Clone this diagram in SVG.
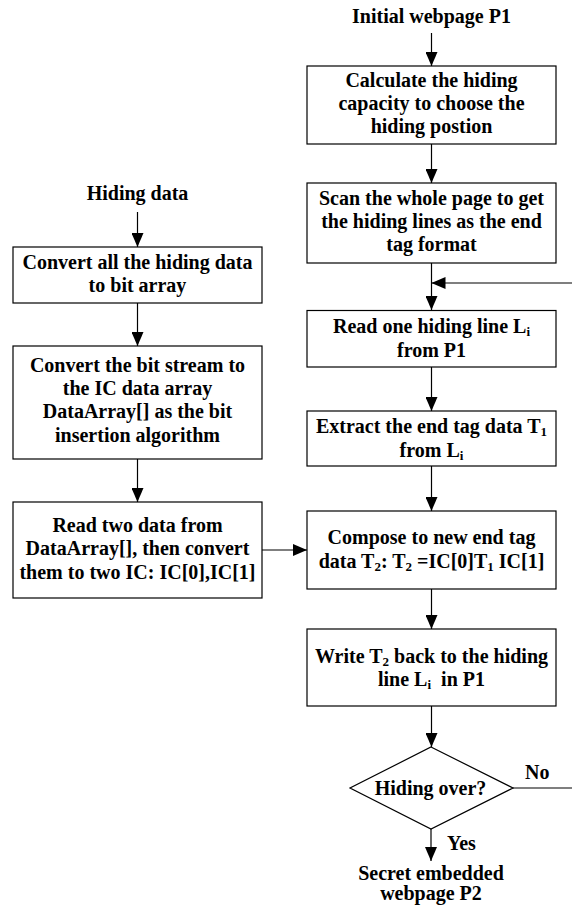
<svg xmlns="http://www.w3.org/2000/svg" width="572" height="917" viewBox="0 0 572 917">
<style>
text{font-family:"Liberation Serif","Times New Roman",serif;font-weight:bold;font-size:20px;fill:#000;text-anchor:middle}
.l{text-anchor:start}
.box{fill:#fff;stroke:#000;stroke-width:1.2}
.c{stroke:#000;stroke-width:1.2;fill:none}
.s{font-size:13px}
</style>
<defs>
<marker id="ah" markerUnits="userSpaceOnUse" markerWidth="14" markerHeight="12" viewBox="0 0 14 12" refX="14" refY="6" orient="auto">
<path d="M0,0 L14,6 L0,12 Z" fill="#000"/>
</marker>
</defs>
<g id="connectors">
<line class="c" x1="431.5" y1="33" x2="431.5" y2="66" marker-end="url(#ah)"/>
<line class="c" x1="431.5" y1="144" x2="431.5" y2="183" marker-end="url(#ah)"/>
<line class="c" x1="431.5" y1="263" x2="431.5" y2="310" marker-end="url(#ah)"/>
<line class="c" x1="572" y1="283" x2="431.5" y2="283" marker-end="url(#ah)"/>
<line class="c" x1="431.5" y1="367" x2="431.5" y2="411" marker-end="url(#ah)"/>
<line class="c" x1="431.5" y1="466" x2="431.5" y2="511" marker-end="url(#ah)"/>
<line class="c" x1="431.5" y1="589" x2="431.5" y2="629" marker-end="url(#ah)"/>
<line class="c" x1="431.5" y1="706" x2="431.5" y2="747" marker-end="url(#ah)"/>
<line class="c" x1="431" y1="829" x2="431" y2="861" marker-end="url(#ah)"/>
<line class="c" x1="513" y1="788" x2="572" y2="788"/>
<line class="c" x1="137.5" y1="212" x2="137.5" y2="247" marker-end="url(#ah)"/>
<line class="c" x1="137.5" y1="303" x2="137.5" y2="346" marker-end="url(#ah)"/>
<line class="c" x1="137.5" y1="459" x2="137.5" y2="502" marker-end="url(#ah)"/>
<line class="c" x1="262" y1="550" x2="307" y2="550" marker-end="url(#ah)"/>
<text class="l" x="525" y="779">No</text>
<text class="l" x="447" y="850">Yes</text>
</g>
<g id="start">
<text x="431.5" y="23">Initial webpage P1</text>
</g>
<g id="calc">
<rect class="box" x="307" y="66" width="249" height="78"/>
<text x="431.5" y="87">Calculate the hiding</text>
<text x="431.5" y="110">capacity to choose the</text>
<text x="431.5" y="133">hiding postion</text>
</g>
<g id="scan">
<rect class="box" x="307" y="183" width="249" height="80"/>
<text x="431.5" y="205">Scan the whole page to get</text>
<text x="431.5" y="228">the hiding lines as the end</text>
<text x="431.5" y="251">tag format</text>
</g>
<g id="read">
<rect class="box" x="307" y="310.5" width="249" height="56.5"/>
<text x="431.5" y="333">Read one hiding line L<tspan class="s" dy="3">i</tspan></text>
<text x="431.5" y="357">from P1</text>
</g>
<g id="extract">
<rect class="box" x="307" y="411" width="249" height="55"/>
<text x="431.5" y="433">Extract the end tag data T<tspan class="s" dy="3">1</tspan></text>
<text x="431.5" y="457">from L<tspan class="s" dy="3">i</tspan></text>
</g>
<g id="compose">
<rect class="box" x="307" y="511" width="249" height="78"/>
<text x="431.5" y="544">Compose to new end tag</text>
<text x="431.5" y="568">data T<tspan class="s" dy="3">2</tspan><tspan dy="-3">: T</tspan><tspan class="s" dy="3">2</tspan><tspan dy="-3"> =IC[0]T</tspan><tspan class="s" dy="3">1</tspan><tspan dy="-3"> IC[1]</tspan></text>
</g>
<g id="write">
<rect class="box" x="307" y="629" width="249" height="77"/>
<text x="431.5" y="663">Write T<tspan class="s" dy="3">2</tspan><tspan dy="-3"> back to the hiding</tspan></text>
<text x="431.5" y="686">line L<tspan class="s" dy="3">i</tspan><tspan dy="-3">&#160; in P1</tspan></text>
</g>
<g id="decision">
<polygon class="box" points="431,747 513,788 431,829 350,788"/>
<text x="430.5" y="795">Hiding over?</text>
</g>
<g id="end">
<text x="431" y="880">Secret embedded</text>
<text x="431" y="900">webpage P2</text>
</g>
<g id="hiding-data">
<text x="137.5" y="200">Hiding data</text>
</g>
<g id="convert-bits">
<rect class="box" x="13" y="247" width="249" height="56"/>
<text x="137.5" y="269">Convert all the hiding data</text>
<text x="137.5" y="292">to bit array</text>
</g>
<g id="convert-ic">
<rect class="box" x="13" y="346" width="249" height="113"/>
<text x="137.5" y="372">Convert the bit stream to</text>
<text x="137.5" y="395">the IC data array</text>
<text x="137.5" y="418">DataArray[] as the bit</text>
<text x="137.5" y="442">insertion algorithm</text>
</g>
<g id="read-two">
<rect class="box" x="13" y="502" width="249" height="96"/>
<text x="137.5" y="532">Read two data from</text>
<text x="137.5" y="555">DataArray[], then convert</text>
<text x="137.5" y="579">them to two IC: IC[0],IC[1]</text>
</g>
</svg>
